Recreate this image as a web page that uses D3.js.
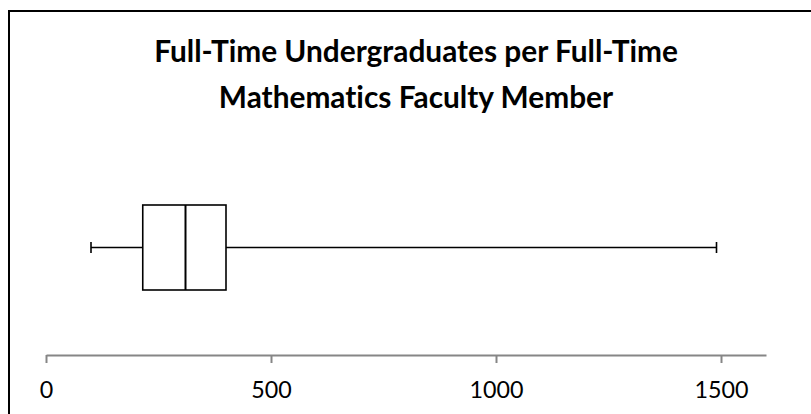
<!DOCTYPE html>
<html>
<head>
<meta charset="utf-8">
<script src="https://cdn.jsdelivr.net/npm/d3@7"></script>
<style>
	html, body { margin: 0; padding: 0; background: #fff; }
	svg { display: block; }
	text { font-variant-ligatures: none; }
	.title { font-family: Lato, "Open Sans", sans-serif; font-weight: bold; fill: #000; }
	.axis text { font-family: Lato, "Open Sans", sans-serif; fill: #000; }
	.axis path, .axis line { stroke: #868686; stroke-width: 2; }
	.box rect, .box line { stroke: #000; fill: none; stroke-width: 1.6; }
	.box .median { stroke-width: 2; }
</style>
</head>
<body>
<svg id="chart" width="811" height="414"></svg>
<script>

//------------------------------------------------------------------------------
// Data

var titleLines   = ['Full-Time Undergraduates per Full-Time', 'Mathematics Faculty Member'];
var categories   = ['Undergraduates per faculty member'];
var whiskerLow   = [100];
var quartileLow  = [215];
var medians      = [310];
var quartileHigh = [400];
var whiskerHigh  = [1490];
var tickValues   = [0, 500, 1000, 1500];
var axisDomain   = [0, 1600];

//------------------------------------------------------------------------------
// Helpers

// scale the font of a text so that its width matches the reference
function fitFont(node, target)
{
	var w = node.getComputedTextLength();
	var fs = parseFloat(d3.select(node).style('font-size'));
	return fs * target / w;
}

//------------------------------------------------------------------------------
// Chart

var svg = d3.select('#chart');

var boxes = categories.map(function (c, i) {
	return {
		name: c,
		lo: whiskerLow[i],
		q1: quartileLow[i],
		med: medians[i],
		q3: quartileHigh[i],
		hi: whiskerHigh[i]
	};
});

var x = d3.scaleLinear().domain(axisDomain).range([46, 766]);
var y = d3.scaleBand().domain(categories).range([162.5, 332.5])
	.paddingInner(0).paddingOuter(0.5);

// chart area frame (only the left and top edges are inside the picture)
svg.append('path')
	.attr('d', 'M9,414V11H811')
	.attr('fill', 'none')
	.attr('stroke', '#000')
	.attr('stroke-width', 2);

// title
var title = svg.append('text')
	.attr('class', 'title')
	.attr('text-anchor', 'middle')
	.style('font-size', '26px');

title.selectAll('tspan')
	.data(titleLines)
	.enter().append('tspan')
	.attr('x', 416)
	.attr('y', function (d, i) { return i == 0 ? 62 : 108; })
	.text(function (d) { return d; });

var titleSize = fitFont(title.select('tspan').node(), 524);
title.style('font-size', titleSize + 'px');

// axis
var axis = svg.append('g')
	.attr('class', 'axis')
	.attr('transform', 'translate(0,355)')
	.call(d3.axisBottom(x)
		.tickValues(tickValues)
		.tickFormat(d3.format('d'))
		.tickSize(8)
		.tickSizeOuter(0)
	);

axis.selectAll('text')
	.attr('y', 43)
	.attr('dy', 0)
	.style('font-size', '22px');

var last = axis.selectAll('text').filter(function (d) { return d == 1500; }).node();
axis.selectAll('text').style('font-size', fitFont(last, 54) + 'px');

// box plot
var g = svg.append('g').attr('class', 'box')
	.selectAll('g')
	.data(boxes)
	.enter().append('g');

g.append('line')
	.attr('class', 'whisker')
	.attr('x1', function (d) { return x(d.lo); })
	.attr('x2', function (d) { return x(d.q1); })
	.attr('y1', function (d) { return y(d.name) + y.bandwidth() / 2; })
	.attr('y2', function (d) { return y(d.name) + y.bandwidth() / 2; });

g.append('line')
	.attr('class', 'whisker')
	.attr('x1', function (d) { return x(d.q3); })
	.attr('x2', function (d) { return x(d.hi); })
	.attr('y1', function (d) { return y(d.name) + y.bandwidth() / 2; })
	.attr('y2', function (d) { return y(d.name) + y.bandwidth() / 2; });

g.selectAll('.cap')
	.data(function (d) { return [d.lo, d.hi].map(function (v) { return { v: v, name: d.name }; }); })
	.enter().append('line')
	.attr('class', 'cap')
	.attr('x1', function (d) { return x(d.v); })
	.attr('x2', function (d) { return x(d.v); })
	.attr('y1', function (d) { return y(d.name) + y.bandwidth() / 2 - 5.5; })
	.attr('y2', function (d) { return y(d.name) + y.bandwidth() / 2 + 5.5; });

g.append('rect')
	.attr('x', function (d) { return x(d.q1); })
	.attr('width', function (d) { return x(d.q3) - x(d.q1); })
	.attr('y', function (d) { return y(d.name); })
	.attr('height', y.bandwidth());

g.append('line')
	.attr('class', 'median')
	.attr('x1', function (d) { return x(d.med); })
	.attr('x2', function (d) { return x(d.med); })
	.attr('y1', function (d) { return y(d.name); })
	.attr('y2', function (d) { return y(d.name) + y.bandwidth(); });

//------------------------------------------------------------------------------

</script>
</body>
</html>
